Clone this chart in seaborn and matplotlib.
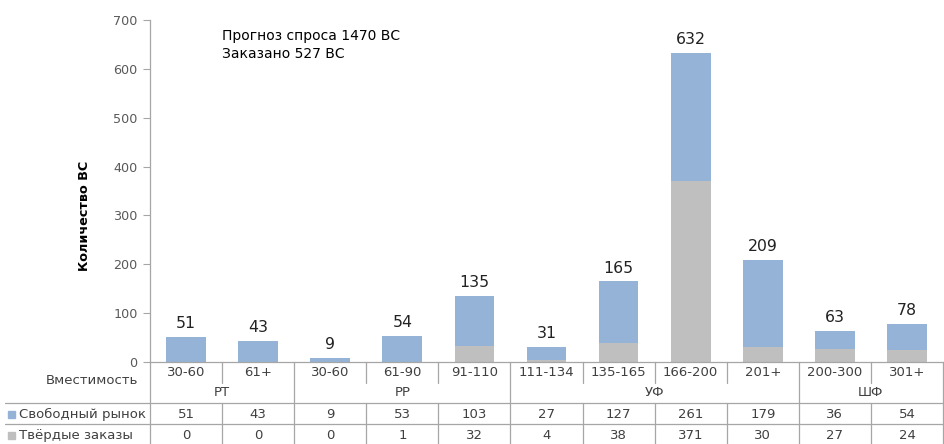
import matplotlib
matplotlib.use("Agg")
import matplotlib.pyplot as plt
import matplotlib.transforms as mtransforms
from matplotlib.patches import Rectangle
import seaborn as sns
import pandas as pd

categories = ["30-60", "61+", "30-60", "61-90", "91-110", "111-134", "135-165", "166-200", "201+", "200-300", "301+"]
groups = ["РТ", "РТ", "РР", "РР", "РР", "УФ", "УФ", "УФ", "УФ", "ШФ", "ШФ"]
free_market = [51, 43, 9, 53, 103, 27, 127, 261, 179, 36, 54]
firm_orders = [0, 0, 0, 1, 32, 4, 38, 371, 30, 27, 24]
series_names = ["Свободный рынок", "Твёрдые заказы"]
row_header = "Вместимость"
y_label = "Количество ВС"
note = "Прогноз спроса 1470 ВС\nЗаказано 527 ВС"
y_ticks = [0, 100, 200, 300, 400, 500, 600, 700]

BLUE = "#95B3D7"
GRAY = "#BFBFBF"
LINE = "#A6A6A6"

sns.set_theme(style="white")
plt.rcParams["font.family"] = ["DejaVu Sans"]

keys = [f"{g} {c}" for g, c in zip(groups, categories)]
totals = [a + b for a, b in zip(free_market, firm_orders)]
df = pd.DataFrame({"key": keys, "total": totals, "firm": firm_orders})

fig = plt.figure(figsize=(9.44, 4.44), dpi=100)
ax = fig.add_axes([150 / 944, 1 - 362 / 444, 793 / 944, 342 / 444])

sns.barplot(data=df, x="key", y="total", color=BLUE, width=0.55, ax=ax, saturation=1,
            edgecolor="none", linewidth=0)
sns.barplot(data=df, x="key", y="firm", color=GRAY, width=0.55, ax=ax, saturation=1,
            edgecolor="none", linewidth=0)

n = len(categories)
ax.set_xlim(-0.5, n - 0.5)
ax.set_ylim(0, 700)
ax.set_yticks(y_ticks)
ax.set_yticklabels([str(t) for t in y_ticks], fontsize=9.2, color="#595959")
ax.tick_params(axis="y", direction="out", length=5, width=0.8, color=LINE, left=True, pad=4)
ax.set_xticks([])
ax.set_xlabel("")
ax.set_ylabel("")
for s in ["top", "right"]:
    ax.spines[s].set_visible(False)
ax.spines["left"].set_color(LINE)
ax.spines["bottom"].set_color(LINE)
ax.spines["left"].set_linewidth(0.9)
ax.spines["bottom"].set_linewidth(0.9)

for i, t in enumerate(totals):
    ax.text(i, t + 12, str(t), ha="center", va="bottom", fontsize=11.3, color="#222222")

fig.text(85 / 944, 1 - 216 / 444, y_label, rotation=90, ha="center", va="center",
         fontsize=9.2, fontweight="bold", color="black")
fig.text(222 / 944, 1 - 29 / 444, note, ha="left", va="top", fontsize=10,
         color="black", linespacing=1.35)

# table below
tr = mtransforms.blended_transform_factory(ax.transData, fig.transFigure)
def fy(px):
    return 1 - px / 444

lw = 0.9
left_px = 5 / 944
for ypx in [403, 424]:
    fig.add_artist(plt.Line2D([left_px, 943 / 944], [fy(ypx), fy(ypx)], color=LINE, lw=lw))
fig.add_artist(plt.Line2D([150 / 944, 150 / 944], [fy(362), fy(444)], color=LINE, lw=lw))

for i in range(1, n + 1):
    xb = i - 0.5
    if i == n:
        fig.add_artist(plt.Line2D([xb, xb], [fy(362), fy(444)], color=LINE, lw=lw, transform=tr))
        continue
    if groups[i] != groups[i - 1]:
        fig.add_artist(plt.Line2D([xb, xb], [fy(362), fy(444)], color=LINE, lw=lw, transform=tr))
    else:
        fig.add_artist(plt.Line2D([xb, xb], [fy(362), fy(383)], color=LINE, lw=lw, transform=tr))
        fig.add_artist(plt.Line2D([xb, xb], [fy(403), fy(444)], color=LINE, lw=lw, transform=tr))

tc = "#404040"
fs = 9.5
for i, c in enumerate(categories):
    fig.text(i, fy(373), c, transform=tr, ha="center", va="center", fontsize=fs, color=tc)
    fig.text(i, fy(414), str(free_market[i]), transform=tr, ha="center", va="center", fontsize=fs, color=tc)
    fig.text(i, fy(435), str(firm_orders[i]), transform=tr, ha="center", va="center", fontsize=fs, color=tc)

start = 0
for i in range(1, n + 1):
    if i == n or groups[i] != groups[start]:
        center = (start + i - 1) / 2
        fig.text(center, fy(393), groups[start], transform=tr, ha="center", va="center", fontsize=fs, color=tc)
        start = i

fig.text(138 / 944, fy(380), row_header, ha="right", va="center", fontsize=fs, color=tc)
for ypx, name, col in [(414, series_names[0], BLUE), (435, series_names[1], GRAY)]:
    fig.add_artist(Rectangle((8 / 944, fy(ypx) - 3.5 / 444), 7 / 944, 7 / 444, color=col,
                             transform=fig.transFigure))
    fig.text(19 / 944, fy(ypx), name, ha="left", va="center", fontsize=fs, color=tc)

fig.savefig("out.png", dpi=100)
